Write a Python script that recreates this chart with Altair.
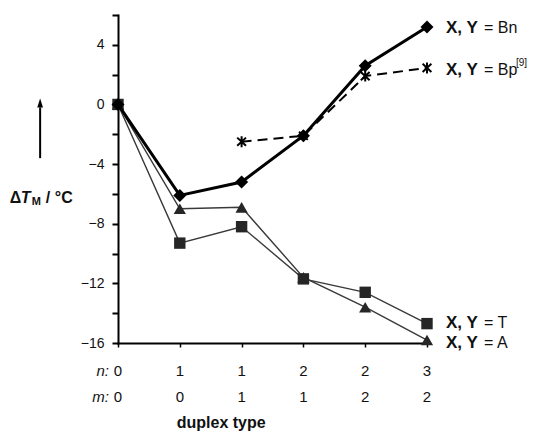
import altair as alt
import pandas as pd

# ---- data ----
x_pos = [0, 1, 2, 3, 4, 5]
n_vals = ["0", "1", "1", "2", "2", "3"]
m_vals = ["0", "0", "1", "1", "2", "2"]
bn_vals = [0.0, -6.1, -5.2, -2.1, 2.6, 5.2]
bp_x = [2, 3, 4, 5]
bp_vals = [-2.5, -2.1, 1.9, 2.45]
t_vals = [0.0, -9.3, -8.2, -11.7, -12.6, -14.7]
a_vals = [0.0, -7.0, -6.9, -11.6, -13.6, -15.8]

series_names = ["Bn", "Bp", "T", "A"]
label_y = [5.15, 2.3, -14.65, -16.0]
y_ticks = list(range(-16, 7, 2))

FONT = "Liberation Sans"

df_bn = pd.DataFrame({"x": x_pos, "y": bn_vals})
df_bp = pd.DataFrame({"x": bp_x, "y": bp_vals})
df_t = pd.DataFrame({"x": x_pos, "y": t_vals})
df_a = pd.DataFrame({"x": x_pos, "y": a_vals})

xs = alt.Scale(domain=[0, 5], nice=False, zero=False)
ys = alt.Scale(domain=[-16, 6], nice=False, zero=False)

x_axis = alt.Axis(title="", values=x_pos, labels=False, grid=False,
                  domainColor="black", domainWidth=2, tickColor="black",
                  tickSize=4, tickWidth=1.5, domainCap="square")
y_axis = alt.Axis(title="", values=y_ticks, grid=False,
                  labelExpr="datum.value % 4 == 0 ? replace(format(datum.value, 'd'), '-', '\u2212') : ''",
                  domainColor="black", domainWidth=2, tickColor="black",
                  tickSize=6, tickWidth=2, labelPadding=8, labelFont=FONT,
                  labelFontSize=14, labelColor="#111", domainCap="square")


def X():
    return alt.X("x:Q", scale=xs, axis=x_axis)


def Y():
    return alt.Y("y:Q", scale=ys, axis=y_axis)


# thin grey series
t_line = alt.Chart(df_t).mark_line(color="#3a3a3a", strokeWidth=1.4).encode(x=X(), y=Y())
t_pts = alt.Chart(df_t).mark_point(shape="square", filled=True, color="#262626",
                                   size=130, opacity=1).encode(x=X(), y=Y())
a_line = alt.Chart(df_a).mark_line(color="#3a3a3a", strokeWidth=1.4).encode(x=X(), y=Y())
a_pts = alt.Chart(df_a).mark_point(shape="triangle-up", filled=True, color="#262626",
                                   size=150, opacity=1).encode(x=X(), y=Y())

# dashed Bp
asterisk = "M0,-1L0,1M-0.8,-0.75L0.8,0.75M-0.8,0.75L0.8,-0.75"
bp_line = alt.Chart(df_bp).mark_line(color="black", strokeWidth=2,
                                     strokeDash=[10, 6]).encode(x=X(), y=Y())
bp_pts = alt.Chart(df_bp).mark_point(shape=asterisk, filled=False, color="black",
                                     strokeWidth=2, size=120, opacity=1).encode(x=X(), y=Y())

# thick Bn
bn_line = alt.Chart(df_bn).mark_line(color="black", strokeWidth=3).encode(x=X(), y=Y())
bn_pts = alt.Chart(df_bn).mark_point(shape="diamond", filled=True, color="black",
                                     size=170, opacity=1).encode(x=X(), y=Y())

# right-hand series labels
df_lab = pd.DataFrame({"x": [5] * 4, "y": label_y,
                       "eq": ["= " + s for s in series_names]})
lab_bold = alt.Chart(df_lab).mark_text(align="left", baseline="middle", dx=19,
                                       font=FONT, fontSize=17, fontWeight="bold",
                                       color="#111").encode(
    x=X(), y=Y(), text=alt.value("X, Y"))
lab_eq = alt.Chart(df_lab).mark_text(align="left", baseline="middle", dx=57,
                                     font=FONT, fontSize=16, color="#111").encode(
    x=X(), y=Y(), text="eq:N")
df_sup = pd.DataFrame({"x": [5], "y": [label_y[1]], "t": ["[9]"]})
lab_sup = alt.Chart(df_sup).mark_text(align="left", baseline="middle", dx=89, dy=-7,
                                      font=FONT, fontSize=10, color="#111").encode(
    x=X(), y=Y(), text="t:N")

# n / m rows below the axis
n_row_y = -17.9
m_row_y = -19.6
df_rows = pd.DataFrame({"x": x_pos * 2, "y": [n_row_y] * 6 + [m_row_y] * 6,
                        "t": n_vals + m_vals})
rows = alt.Chart(df_rows).mark_text(align="center", baseline="middle", font=FONT,
                                    fontSize=15, color="#111").encode(
    x=X(), y=Y(), text="t:N")
df_rowlab = pd.DataFrame({"x": [0, 0], "y": [n_row_y, m_row_y], "t": ["n:", "m:"]})
rowlab = alt.Chart(df_rowlab).mark_text(align="right", baseline="middle", dx=-9,
                                        font=FONT, fontSize=15, fontStyle="italic",
                                        color="#111").encode(x=X(), y=Y(), text="t:N")

df_xt = pd.DataFrame({"x": [1.67], "y": [-21.35], "t": ["duplex type"]})
xtitle = alt.Chart(df_xt).mark_text(align="center", baseline="middle", font=FONT,
                                    fontSize=16, fontWeight="bold", color="#111").encode(
    x=X(), y=Y(), text="t:N")

# y title: ΔT_M / °C, composed of pieces
yt_x = -1.75
yt_y = -6.27
df_yt = pd.DataFrame({"x": [yt_x] * 4, "y": [yt_y] * 4,
                      "t": ["\u0394", "T", "M", "/ \u00b0C"],
                      "dx": [0, 11, 22, 36]})
yt_parts = []
for i, row in df_yt.iterrows():
    d = df_yt.iloc[[i]]
    kw = dict(align="left", baseline="middle", font=FONT, fontWeight="bold",
              color="#111", dx=int(row["dx"]))
    if row["t"] == "T":
        kw["fontStyle"] = "italic"
        kw["fontSize"] = 16
    elif row["t"] == "M":
        kw["fontSize"] = 11
        kw["dy"] = 4
    else:
        kw["fontSize"] = 16
    yt_parts.append(alt.Chart(d).mark_text(**kw).encode(x=X(), y=Y(), text="t:N"))

# arrow
arrow_x = -1.26
df_arrow = pd.DataFrame({"x": [arrow_x], "y": [-3.6], "y2": [-0.2]})
arrow_shaft = alt.Chart(df_arrow).mark_rule(color="black", strokeWidth=2).encode(
    x=X(), y=Y(), y2="y2:Q")
df_head = pd.DataFrame({"x": [arrow_x], "y": [0.05]})
arrow_head = alt.Chart(df_head).mark_point(
    shape="M0,-1L0.55,0.7L-0.55,0.7Z", filled=True, color="black", size=110,
    opacity=1).encode(x=X(), y=Y())

chart = alt.layer(
    t_line, a_line, t_pts, a_pts, bp_line, bp_pts, bn_line, bn_pts,
    lab_bold, lab_eq, lab_sup, rows, rowlab, xtitle, *yt_parts,
    arrow_shaft, arrow_head,
).properties(
    width=309, height=328,
    background="white",
    autosize=alt.AutoSizeParams(type="none"),
    padding={"left": 110, "top": 7, "right": 104, "bottom": 88},
).configure_view(strokeWidth=0)

chart.save("out.html", embed_options={"renderer": "svg", "actions": False})
